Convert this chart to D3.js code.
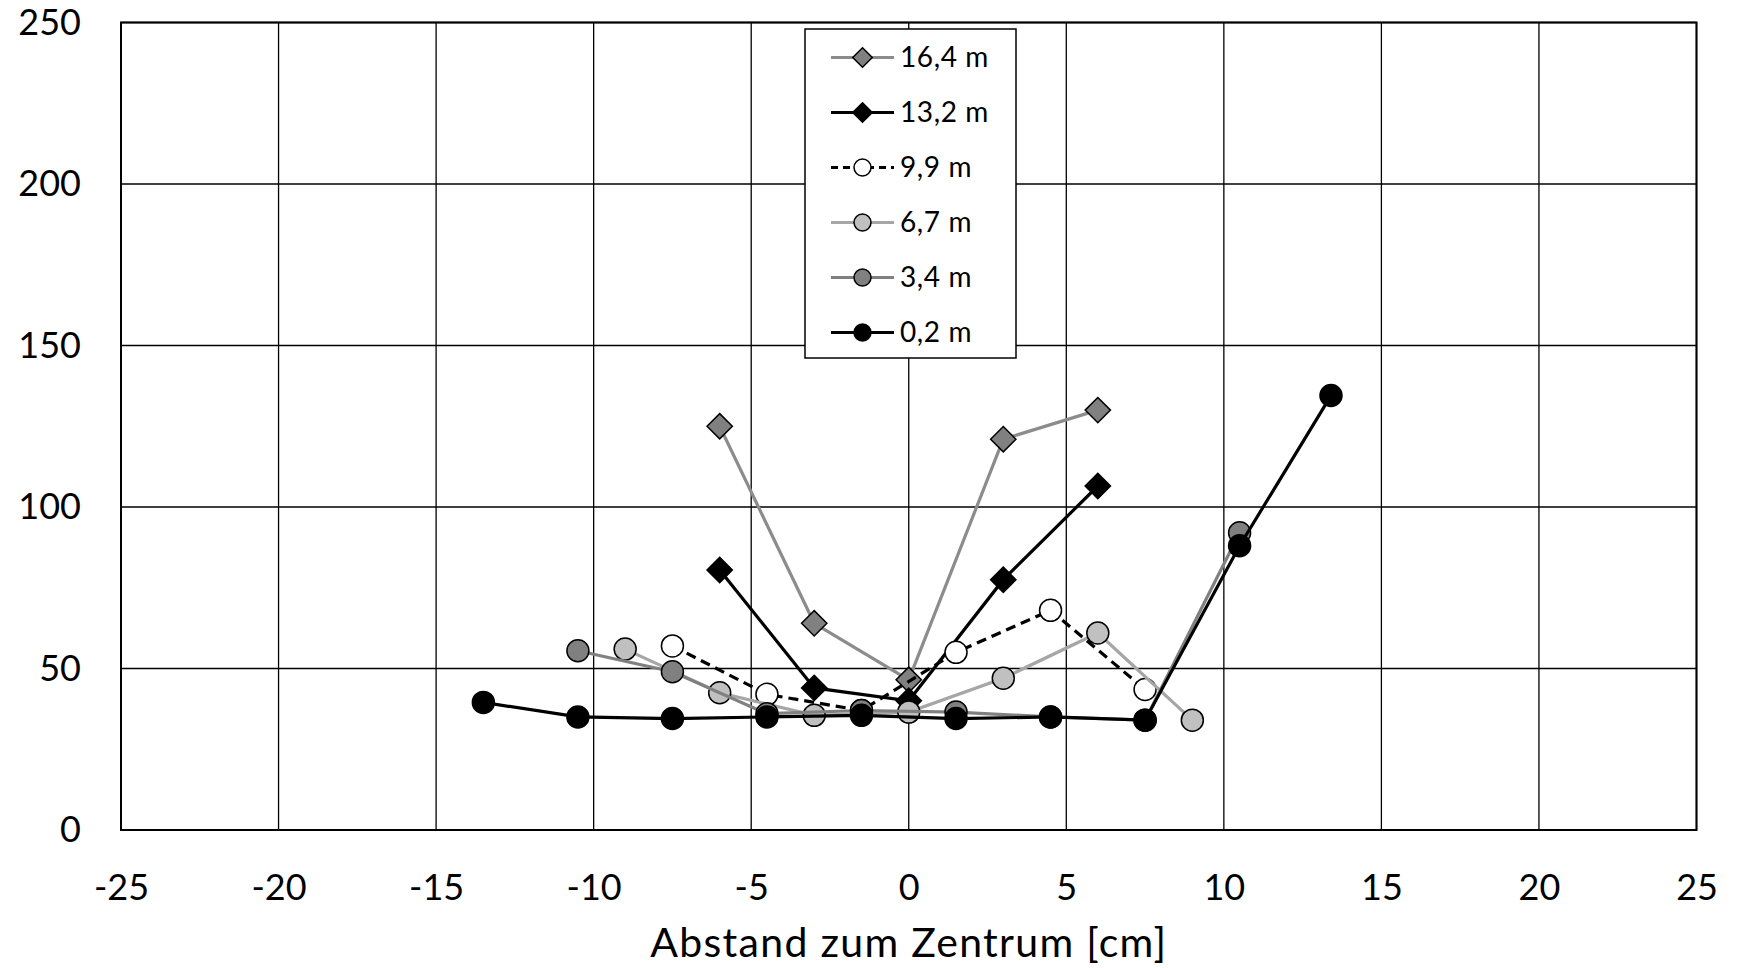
<!DOCTYPE html>
<html>
<head>
<meta charset="utf-8">
<script src="https://cdn.jsdelivr.net/npm/d3@7"></script>
<style>
  html, body { margin: 0; padding: 0; background: #fff; }
  svg { display: block; font-family: Lato, "Open Sans", sans-serif; }
</style>
</head>
<body>
<svg id="chart" width="1737" height="968"></svg>
<script>
// ---- data ----
const xTicks = [-25, -20, -15, -10, -5, 0, 5, 10, 15, 20, 25];
const xTickLabels = ["-25", "-20", "-15", "-10", "-5", "0", "5", "10", "15", "20", "25"];
const yTicks = [0, 50, 100, 150, 200, 250];
const yTickLabels = ["0", "50", "100", "150", "200", "250"];
const xTitle = "Abstand zum Zentrum [cm]";

const seriesNames = ["16,4 m", "13,2 m", "9,9 m", "6,7 m", "3,4 m", "0,2 m"];

const x164 = [-6, -3, 0, 3, 6];
const y164 = [125, 64, 46.5, 121, 130];

const x132 = [-6, -3, 0, 3, 6];
const y132 = [80.5, 44, 40, 77.5, 106.5];

const x99 = [-7.5, -4.5, -1.5, 1.5, 4.5, 7.5];
const y99 = [57, 42, 37, 55, 68, 43.5];

const x67 = [-9, -6, -3, 0, 3, 6, 9];
const y67 = [56, 42.5, 35.5, 36.5, 47, 61, 34];

const x34 = [-10.5, -7.5, -4.5, -1.5, 1.5, 4.5, 7.5, 10.5];
const y34 = [55.5, 49, 36, 37, 36.5, 35, 34, 92];

const x02 = [-13.5, -10.5, -7.5, -4.5, -1.5, 1.5, 4.5, 7.5, 10.5, 13.4];
const y02 = [39.5, 35, 34.5, 35, 35.5, 34.5, 35, 34, 88, 134.5];

// ---- styles (kept separate from data) ----
const styles = [
  { line: "#8c8c8c", fill: "#808080", shape: "diamond", dash: null },
  { line: "#000000", fill: "#000000", shape: "diamond", dash: null },
  { line: "#000000", fill: "#ffffff", shape: "circle", dash: "10,6" },
  { line: "#a6a6a6", fill: "#c0c0c0", shape: "circle", dash: null },
  { line: "#808080", fill: "#808080", shape: "circle", dash: null },
  { line: "#000000", fill: "#000000", shape: "circle", dash: null }
];
const seriesData = [
  [x164, y164], [x132, y132], [x99, y99], [x67, y67], [x34, y34], [x02, y02]
];

// ---- layout ----
const W = 1737, H = 968;
const plot = { left: 121, right: 1696.5, top: 22.5, bottom: 830 };

const svg = d3.select("#chart");
svg.append("rect").attr("width", W).attr("height", H).attr("fill", "#fff");

const x = d3.scaleLinear().domain([-25, 25]).range([plot.left, plot.right]);
const y = d3.scaleLinear().domain([0, 250]).range([plot.bottom, plot.top]);

// gridlines
const grid = svg.append("g");
grid.selectAll("line.v").data(xTicks).join("line")
  .attr("class", "v")
  .attr("x1", d => x(d)).attr("x2", d => x(d))
  .attr("y1", plot.top).attr("y2", plot.bottom)
  .attr("stroke", "#000").attr("stroke-width", 1.3);
grid.selectAll("line.h").data(yTicks).join("line")
  .attr("class", "h")
  .attr("x1", plot.left).attr("x2", plot.right)
  .attr("y1", d => y(d)).attr("y2", d => y(d))
  .attr("stroke", "#000").attr("stroke-width", 1.3);

// plot border
svg.append("rect")
  .attr("x", plot.left).attr("y", plot.top)
  .attr("width", plot.right - plot.left).attr("height", plot.bottom - plot.top)
  .attr("fill", "none").attr("stroke", "#000").attr("stroke-width", 2);

// axes (labels via d3 axis generators, no tick marks / domain)
const xAxis = d3.axisBottom(x).tickValues(xTicks)
  .tickFormat((d, i) => xTickLabels[i]).tickSize(0).tickPadding(44);
const gx = svg.append("g").attr("transform", `translate(0,${plot.bottom})`).call(xAxis);
gx.select(".domain").remove();
gx.selectAll("text").attr("font-size", 36).attr("font-family", "Lato, 'Open Sans', sans-serif").attr("fill", "#000");

const yAxis = d3.axisLeft(y).tickValues(yTicks)
  .tickFormat((d, i) => yTickLabels[i]).tickSize(0).tickPadding(40);
const gy = svg.append("g").attr("transform", `translate(${plot.left},0)`).call(yAxis);
gy.select(".domain").remove();
gy.selectAll("text").attr("font-size", 36).attr("font-family", "Lato, 'Open Sans', sans-serif").attr("fill", "#000");

// axis title
svg.append("text")
  .attr("x", (plot.left + plot.right) / 2).attr("y", 957)
  .attr("text-anchor", "middle").attr("font-size", 41).attr("letter-spacing", 1.3).attr("fill", "#000")
  .text(xTitle);

// series
const diamond = s => `M0,${-s}L${s},0L0,${s}L${-s},0Z`;
function drawMarker(g, shape, fill, r) {
  if (shape === "circle") {
    g.append("circle").attr("r", r).attr("fill", fill).attr("stroke", "#000").attr("stroke-width", 1.5);
  } else {
    g.append("path").attr("d", diamond(r * 1.15)).attr("fill", fill).attr("stroke", "#000").attr("stroke-width", 1.5);
  }
}

const lineGen = d3.line().x(d => x(d[0])).y(d => y(d[1]));
const seriesG = svg.append("g");
seriesData.forEach((sd, i) => {
  const st = styles[i];
  const pts = sd[0].map((xv, k) => [xv, sd[1][k]]);
  const g = seriesG.append("g");
  g.append("path").datum(pts).attr("d", lineGen)
    .attr("fill", "none").attr("stroke", st.line).attr("stroke-width", 3.2)
    .attr("stroke-dasharray", st.dash);
  pts.forEach(p => {
    const mg = g.append("g").attr("transform", `translate(${x(p[0])},${y(p[1])})`);
    drawMarker(mg, st.shape, st.fill, 11);
  });
});

// legend
const leg = svg.append("g");
leg.append("rect").attr("x", 805).attr("y", 29).attr("width", 211).attr("height", 329)
  .attr("fill", "#fff").attr("stroke", "#000").attr("stroke-width", 1.5);
seriesNames.forEach((name, i) => {
  const st = styles[i];
  const cy = 57.5 + i * 55;
  const lg = leg.append("g").attr("transform", `translate(0,${cy})`);
  lg.append("line").attr("x1", 831).attr("x2", 894).attr("y1", 0).attr("y2", 0)
    .attr("stroke", st.line).attr("stroke-width", 3.2).attr("stroke-dasharray", st.dash ? "7,5" : null);
  const mg = lg.append("g").attr("transform", "translate(862.5,0)");
  drawMarker(mg, st.shape, st.fill, 8.5);
  lg.append("text").attr("x", 900).attr("y", 0).attr("dy", "0.35em")
    .attr("font-size", 28).attr("letter-spacing", 0.6).attr("fill", "#000").text(name);
});
</script>
</body>
</html>
